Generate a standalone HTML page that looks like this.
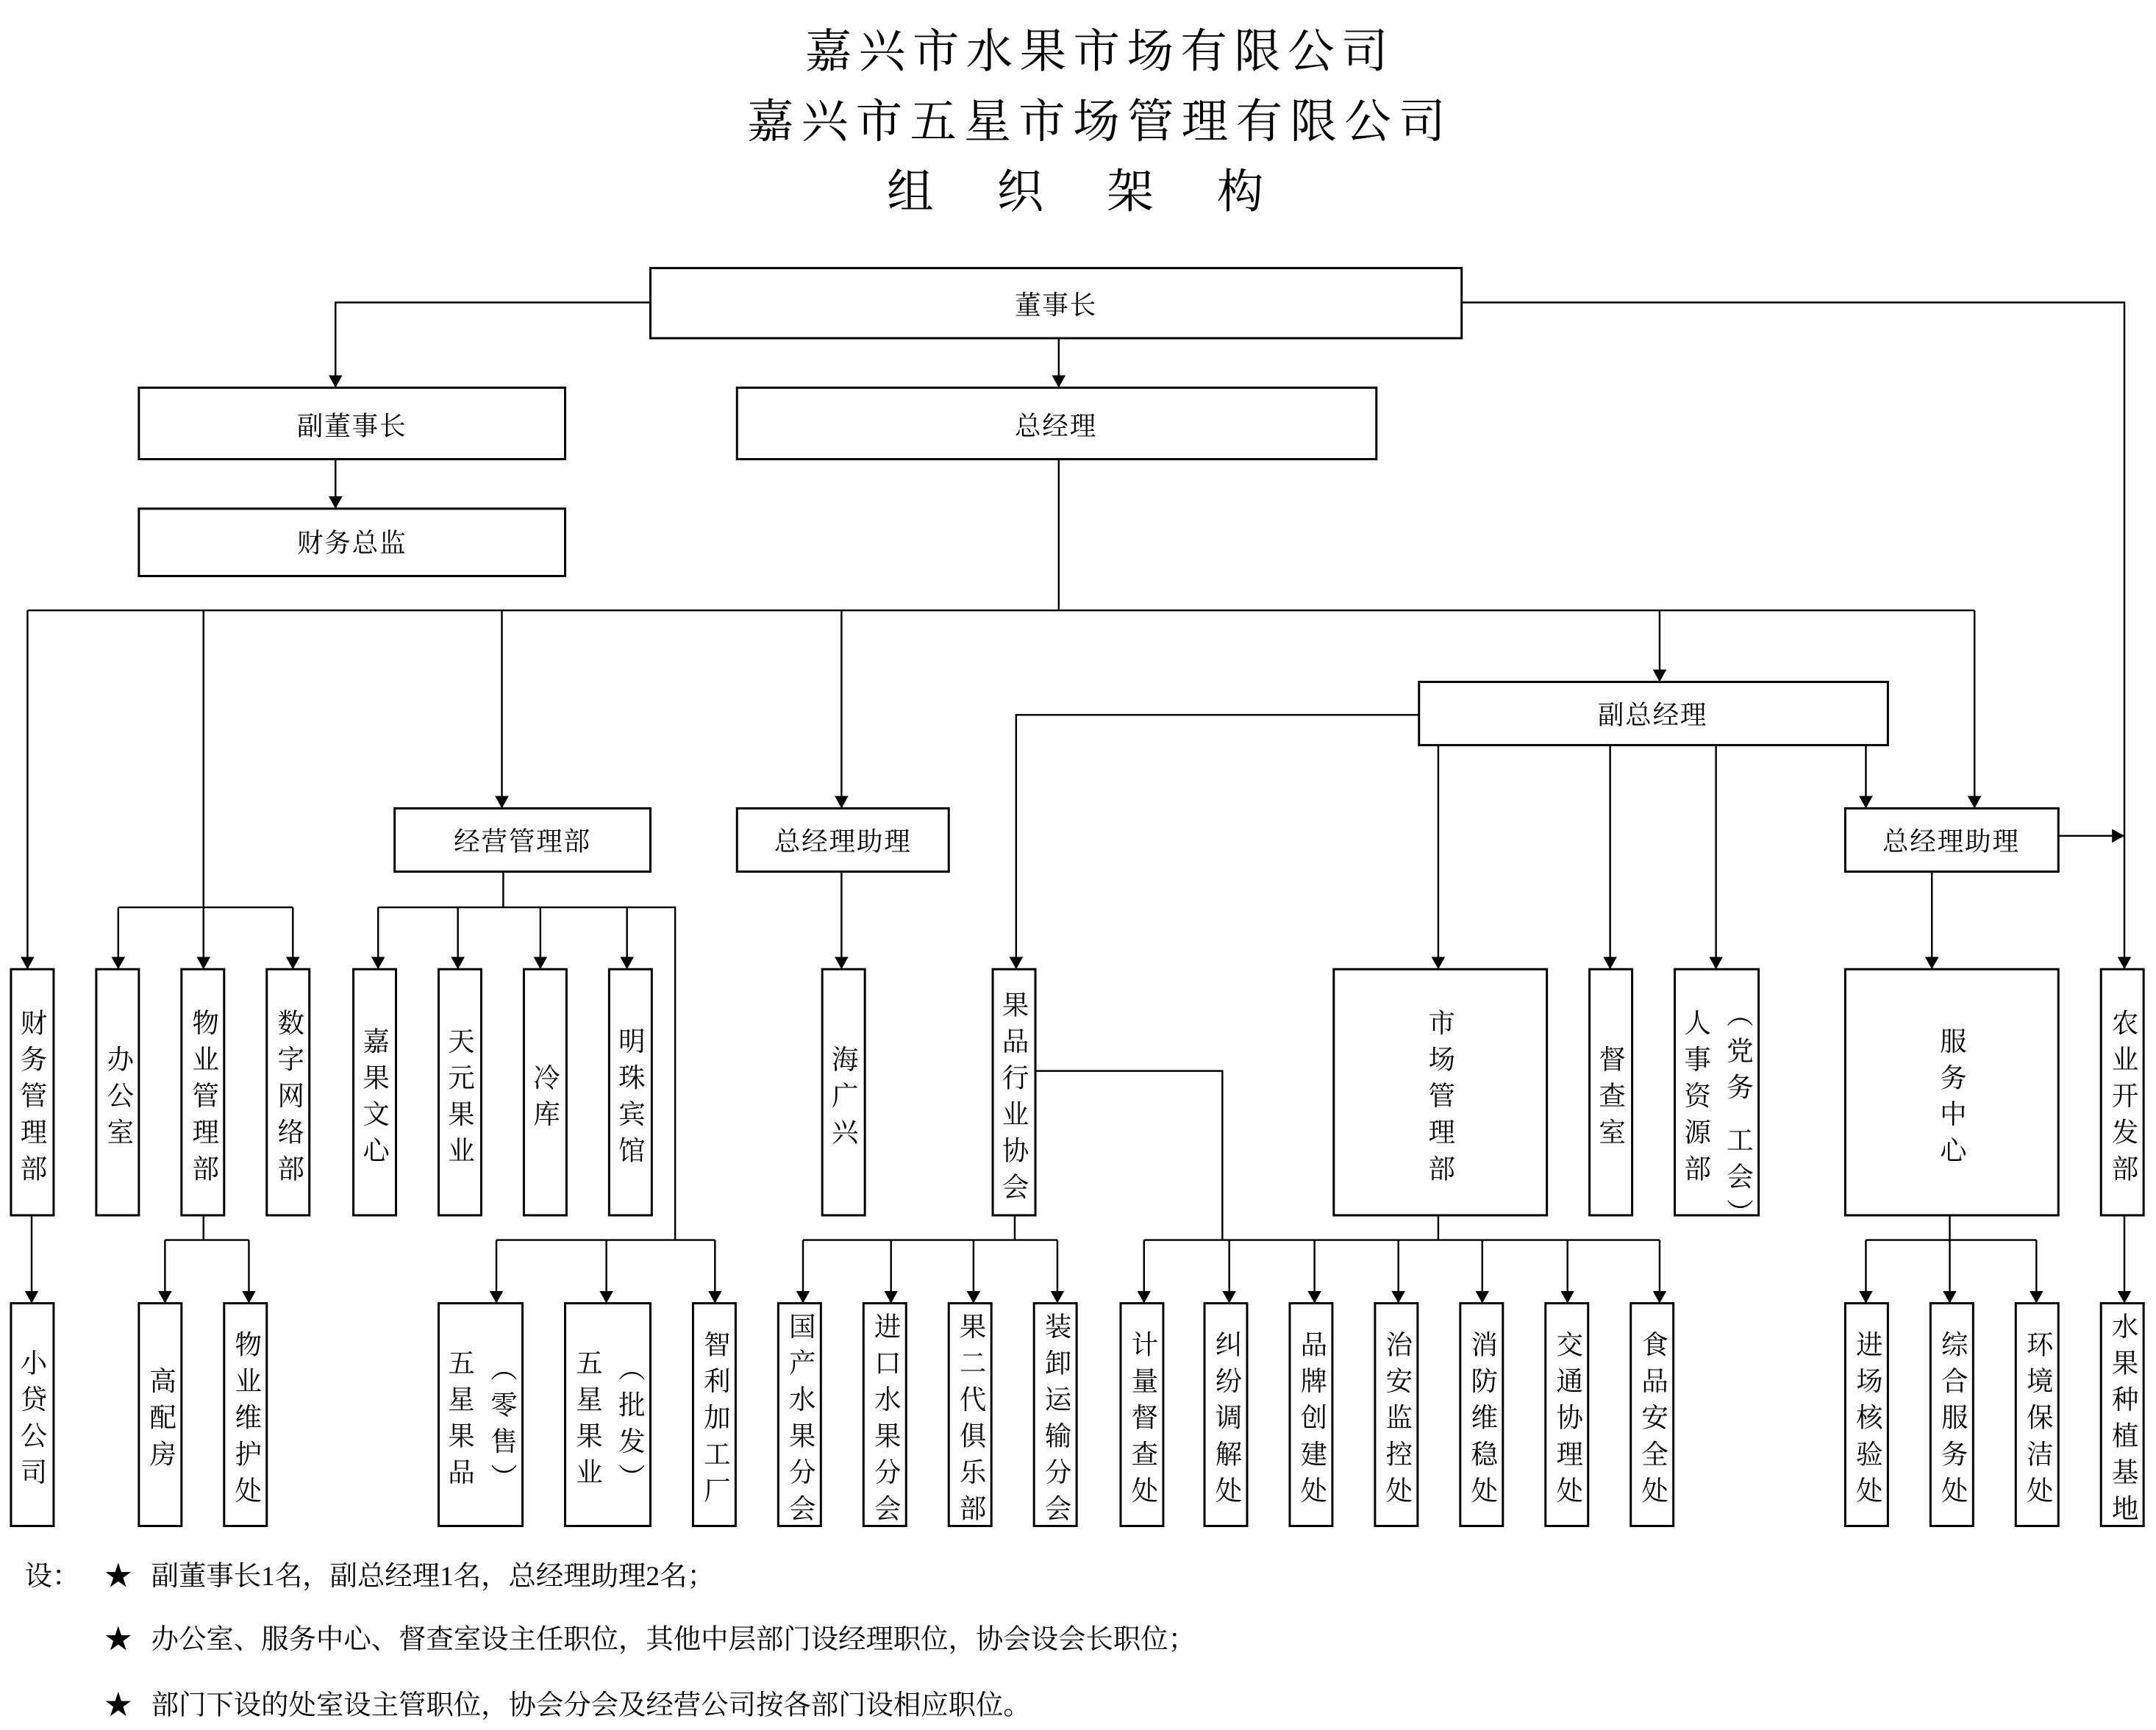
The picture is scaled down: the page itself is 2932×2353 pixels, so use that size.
<!DOCTYPE html>
<html><head><meta charset="utf-8"><style>
html,body{margin:0;padding:0;background:#fff;}
svg{display:block;}
text{font-family:"Liberation Serif","Noto Serif CJK SC",serif;fill:#000;}
.v{writing-mode:vertical-rl;font-size:19.5px;letter-spacing:7px;text-anchor:middle;}
.h{font-size:19px;text-anchor:middle;dominant-baseline:central;letter-spacing:1px;}
</style></head><body>
<svg width="2932" height="2353" viewBox="0 0 1568 1258.4" preserveAspectRatio="none" xmlns="http://www.w3.org/2000/svg">
<defs><marker id="a" markerWidth="10" markerHeight="10" refX="9" refY="5" orient="auto" markerUnits="userSpaceOnUse"><path d="M0,0 L9,5 L0,10 Z" fill="#000"/></marker></defs>
<g font-family="Liberation Serif, Noto Serif CJK SC, serif" text-anchor="middle">
<text x="800" y="49" font-size="34" letter-spacing="5">嘉兴市水果市场有限公司</text>
<text x="800" y="100" font-size="34" letter-spacing="5.5">嘉兴市五星市场管理有限公司</text>
<text x="805" y="151" font-size="34" letter-spacing="46">组织架构</text>
</g>
<g fill="none" stroke="#000" stroke-width="1.6">
<rect x="473" y="195" width="590" height="51"/>
<rect x="101" y="282" width="310" height="52"/>
<rect x="536" y="282" width="465" height="52"/>
<rect x="101" y="370" width="310" height="49"/>
<rect x="1032" y="496" width="341" height="46"/>
<rect x="287" y="588" width="186" height="46"/>
<rect x="536" y="588" width="154" height="46"/>
<rect x="1342" y="588" width="155" height="46"/>
<rect x="8" y="705" width="31" height="179"/>
<rect x="70" y="705" width="31" height="179"/>
<rect x="132" y="705" width="31" height="179"/>
<rect x="194" y="705" width="31" height="179"/>
<rect x="257" y="705" width="31" height="179"/>
<rect x="319" y="705" width="31" height="179"/>
<rect x="381" y="705" width="31" height="179"/>
<rect x="443" y="705" width="31" height="179"/>
<rect x="598" y="705" width="31" height="179"/>
<rect x="722" y="705" width="31" height="179"/>
<rect x="970" y="705" width="155" height="179"/>
<rect x="1156" y="705" width="31" height="179"/>
<rect x="1218" y="705" width="61" height="179"/>
<rect x="1342" y="705" width="155" height="179"/>
<rect x="1528" y="705" width="31" height="179"/>
<rect x="8" y="948" width="31" height="162"/>
<rect x="101" y="948" width="31" height="162"/>
<rect x="163" y="948" width="31" height="162"/>
<rect x="319" y="948" width="61" height="162"/>
<rect x="411" y="948" width="62" height="162"/>
<rect x="504" y="948" width="31" height="162"/>
<rect x="566" y="948" width="31" height="162"/>
<rect x="628" y="948" width="31" height="162"/>
<rect x="690" y="948" width="31" height="162"/>
<rect x="752" y="948" width="31" height="162"/>
<rect x="815" y="948" width="31" height="162"/>
<rect x="876" y="948" width="31" height="162"/>
<rect x="938" y="948" width="31" height="162"/>
<rect x="1000" y="948" width="31" height="162"/>
<rect x="1062" y="948" width="31" height="162"/>
<rect x="1124" y="948" width="31" height="162"/>
<rect x="1186" y="948" width="31" height="162"/>
<rect x="1342" y="948" width="31" height="162"/>
<rect x="1404" y="948" width="31" height="162"/>
<rect x="1466" y="948" width="31" height="162"/>
<rect x="1528" y="948" width="31" height="162"/>
</g>
<g fill="none" stroke="#000" stroke-width="1.3">
<polyline points="473,220 244,220 244,282" marker-end="url(#a)"/>
<polyline points="1063,220 1545,220 1545,705" marker-end="url(#a)"/>
<polyline points="770,246 770,282" marker-end="url(#a)"/>
<polyline points="244,334 244,370" marker-end="url(#a)"/>
<polyline points="770,334 770,444"/>
<polyline points="20,444 1436,444"/>
<polyline points="20,444 20,705" marker-end="url(#a)"/>
<polyline points="148,444 148,705" marker-end="url(#a)"/>
<polyline points="365,444 365,588" marker-end="url(#a)"/>
<polyline points="612,444 612,588" marker-end="url(#a)"/>
<polyline points="1207,444 1207,496" marker-end="url(#a)"/>
<polyline points="1436,444 1436,588" marker-end="url(#a)"/>
<polyline points="1032,520 739,520 739,705" marker-end="url(#a)"/>
<polyline points="1046,542 1046,705" marker-end="url(#a)"/>
<polyline points="1171,542 1171,705" marker-end="url(#a)"/>
<polyline points="1248,542 1248,705" marker-end="url(#a)"/>
<polyline points="1357,542 1357,588" marker-end="url(#a)"/>
<polyline points="1497,608 1545,608" marker-end="url(#a)"/>
<polyline points="86,660 213,660"/>
<line x1="86" y1="660" x2="86" y2="705" marker-end="url(#a)"/>
<line x1="213" y1="660" x2="213" y2="705" marker-end="url(#a)"/>
<polyline points="366,634 366,660"/>
<polyline points="275,660 491,660 491,902"/>
<line x1="275" y1="660" x2="275" y2="705" marker-end="url(#a)"/>
<line x1="333" y1="660" x2="333" y2="705" marker-end="url(#a)"/>
<line x1="393" y1="660" x2="393" y2="705" marker-end="url(#a)"/>
<line x1="456" y1="660" x2="456" y2="705" marker-end="url(#a)"/>
<line x1="612" y1="634" x2="612" y2="705" marker-end="url(#a)"/>
<line x1="1405" y1="634" x2="1405" y2="705" marker-end="url(#a)"/>
<line x1="23" y1="884" x2="23" y2="948" marker-end="url(#a)"/>
<polyline points="148,884 148,902"/>
<polyline points="120,902 181,902"/>
<line x1="120" y1="902" x2="120" y2="948" marker-end="url(#a)"/>
<line x1="181" y1="902" x2="181" y2="948" marker-end="url(#a)"/>
<polyline points="361,902 520,902"/>
<line x1="361" y1="902" x2="361" y2="948" marker-end="url(#a)"/>
<line x1="441" y1="902" x2="441" y2="948" marker-end="url(#a)"/>
<line x1="520" y1="902" x2="520" y2="948" marker-end="url(#a)"/>
<polyline points="738,884 738,902"/>
<polyline points="584,902 769,902"/>
<line x1="584" y1="902" x2="584" y2="948" marker-end="url(#a)"/>
<line x1="648" y1="902" x2="648" y2="948" marker-end="url(#a)"/>
<line x1="708" y1="902" x2="708" y2="948" marker-end="url(#a)"/>
<line x1="769" y1="902" x2="769" y2="948" marker-end="url(#a)"/>
<polyline points="753,779 889,779 889,902"/>
<polyline points="832,902 1207,902"/>
<line x1="1046" y1="884" x2="1046" y2="902"/>
<line x1="832" y1="902" x2="832" y2="948" marker-end="url(#a)"/>
<line x1="894" y1="902" x2="894" y2="948" marker-end="url(#a)"/>
<line x1="956" y1="902" x2="956" y2="948" marker-end="url(#a)"/>
<line x1="1017" y1="902" x2="1017" y2="948" marker-end="url(#a)"/>
<line x1="1078" y1="902" x2="1078" y2="948" marker-end="url(#a)"/>
<line x1="1140" y1="902" x2="1140" y2="948" marker-end="url(#a)"/>
<line x1="1207" y1="902" x2="1207" y2="948" marker-end="url(#a)"/>
<line x1="1418" y1="884" x2="1418" y2="902"/>
<polyline points="1357,902 1481,902"/>
<line x1="1357" y1="902" x2="1357" y2="948" marker-end="url(#a)"/>
<line x1="1418" y1="902" x2="1418" y2="948" marker-end="url(#a)"/>
<line x1="1481" y1="902" x2="1481" y2="948" marker-end="url(#a)"/>
<line x1="1545" y1="884" x2="1545" y2="948" marker-end="url(#a)"/>
</g>
<text class="h" x="768" y="222">董事长</text>
<text class="h" x="256" y="310">副董事长</text>
<text class="h" x="768" y="310">总经理</text>
<text class="h" x="256" y="395">财务总监</text>
<text class="h" x="1202" y="520">副总经理</text>
<text class="h" x="380" y="612">经营管理部</text>
<text class="h" x="613" y="612">总经理助理</text>
<text class="h" x="1419" y="612">总经理助理</text>
<text class="v" x="23" y="800">财务管理部</text>
<text class="v" x="86" y="800">办公室</text>
<text class="v" x="148" y="800">物业管理部</text>
<text class="v" x="210" y="800">数字网络部</text>
<text class="v" x="272" y="800">嘉果文心</text>
<text class="v" x="334" y="800">天元果业</text>
<text class="v" x="396" y="800">冷库</text>
<text class="v" x="458" y="800">明珠宾馆</text>
<text class="v" x="613" y="800">海广兴</text>
<text class="v" x="737" y="800">果品行业协会</text>
<text class="v" x="1047" y="800">市场管理部</text>
<text class="v" x="1171" y="800">督查室</text>
<text class="v" x="1233" y="800">人事资源部</text>
<text class="v" x="1264" y="813">（党务 工会）</text>
<text class="v" x="1419" y="800">服务中心</text>
<text class="v" x="1544" y="800">农业开发部</text>
<text class="v" x="23" y="1034">小贷公司</text>
<text class="v" x="117" y="1034">高配房</text>
<text class="v" x="179" y="1034">物业维护处</text>
<text class="v" x="334" y="1034">五星果品</text>
<text class="v" x="365" y="1038">（零售）</text>
<text class="v" x="427" y="1034">五星果业</text>
<text class="v" x="458" y="1038">（批发）</text>
<text class="v" x="520" y="1034">智利加工厂</text>
<text class="v" x="582" y="1034">国产水果分会</text>
<text class="v" x="644" y="1034">进口水果分会</text>
<text class="v" x="706" y="1034">果二代俱乐部</text>
<text class="v" x="768" y="1034">装卸运输分会</text>
<text class="v" x="831" y="1034">计量督查处</text>
<text class="v" x="892" y="1034">纠纷调解处</text>
<text class="v" x="954" y="1034">品牌创建处</text>
<text class="v" x="1016" y="1034">治安监控处</text>
<text class="v" x="1078" y="1034">消防维稳处</text>
<text class="v" x="1140" y="1034">交通协理处</text>
<text class="v" x="1202" y="1034">食品安全处</text>
<text class="v" x="1358" y="1034">进场核验处</text>
<text class="v" x="1420" y="1034">综合服务处</text>
<text class="v" x="1482" y="1034">环境保洁处</text>
<text class="v" x="1544" y="1034">水果种植基地</text>
<g font-size="20" font-family="Liberation Serif, Noto Serif CJK SC, serif">
<text x="18" y="1153">设：</text>
<text x="76" y="1153">★</text>
<text x="110" y="1153">副董事长1名，副总经理1名，总经理助理2名；</text>
<text x="76" y="1199">★</text>
<text x="110" y="1199">办公室、服务中心、督查室设主任职位，其他中层部门设经理职位，协会设会长职位；</text>
<text x="76" y="1247">★</text>
<text x="110" y="1247">部门下设的处室设主管职位，协会分会及经营公司按各部门设相应职位。</text>
</g>
</svg>
</body></html>
